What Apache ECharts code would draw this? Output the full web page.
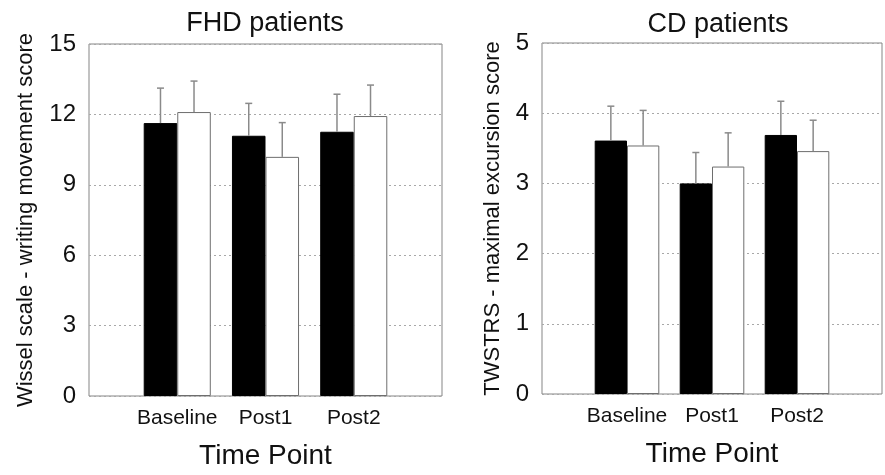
<!DOCTYPE html>
<html>
<head>
<meta charset="utf-8">
<script src="https://cdn.jsdelivr.net/npm/echarts@6/dist/echarts.min.js"></script>
<style>
html,body{margin:0;padding:0;background:#fff;}
#chart{width:885px;height:475px;}
</style>
</head>
<body>
<div id="chart"></div>
<script>
// ---- data ----
const categories = ['Baseline', 'Post1', 'Post2'];
const fhdBlack = [11.63, 11.09, 11.26];
const fhdBlackErr = [1.49, 1.38, 1.60];
const fhdWhite = [12.10, 10.19, 11.93];
const fhdWhiteErr = [1.32, 1.46, 1.32];
const cdBlack = [3.61, 3.00, 3.69];
const cdBlackErr = [0.49, 0.44, 0.48];
const cdWhite = [3.54, 3.24, 3.46];
const cdWhiteErr = [0.50, 0.48, 0.44];
const fhdTicks = {min: 0, max: 15, interval: 3};
const cdTicks = {min: 0, max: 5, interval: 1};

// ---- helpers ----
const FONT = 'Liberation Sans, Arial, sans-serif';
const BAR_FRAC = 0.38;
const pad = arr => [null].concat(arr, [null]);
const axisCats = [''].concat(categories, ['']);
const errData = (vals, errs) => vals.map((v, i) => [i + 1, v, errs[i]]);

function errRender(side) {
  return function (params, api) {
    const x = api.value(0), v = api.value(1), e = api.value(2);
    const p0 = api.coord([x, v]);
    const p1 = api.coord([x, v + e]);
    const band = api.size([1, 0])[0];
    const cx = p0[0] + side * band * BAR_FRAC / 2;
    const st = {stroke: '#8a8a8a', lineWidth: 1.5};
    return {
      type: 'group',
      children: [
        {type: 'line', shape: {x1: cx, y1: p0[1], x2: cx, y2: p1[1]}, style: st},
        {type: 'line', shape: {x1: cx - 3.5, y1: p1[1], x2: cx + 3.5, y2: p1[1]}, style: st}
      ]
    };
  };
}

function xAx(gi) {
  return {
    type: 'category', gridIndex: gi, data: axisCats, boundaryGap: false,
    axisLine: {show: false}, axisTick: {show: false}, splitLine: {show: false},
    axisLabel: {interval: 0, margin: 12, fontSize: 21, color: '#111', fontFamily: FONT},
    name: 'Time Point', nameLocation: 'middle', nameGap: 46,
    nameTextStyle: {fontSize: 28, color: '#111', fontFamily: FONT}
  };
}
function yAx(gi, t, name, gap) {
  return {
    type: 'value', gridIndex: gi, min: t.min, max: t.max, interval: t.interval,
    axisLine: {show: false}, axisTick: {show: false},
    axisLabel: {margin: 13, fontSize: 24, color: '#111', fontFamily: FONT},
    splitLine: {show: true, lineStyle: {type: [2, 3], color: '#a8a8a8', width: 1}},
    name: name, nameLocation: 'middle', nameGap: gap,
    nameTextStyle: {fontSize: 22, color: '#111', fontFamily: FONT}
  };
}
function barSeries(gi, vals, black) {
  return {
    type: 'bar', xAxisIndex: gi, yAxisIndex: gi, data: pad(vals),
    barWidth: (BAR_FRAC * 100) + '%', barGap: '0%',
    itemStyle: black ? {color: '#000', borderColor: '#000', borderWidth: 1}
                     : {color: '#fff', borderColor: '#6e6e6e', borderWidth: 1},
    silent: true
  };
}
function errSeries(gi, vals, errs, side) {
  return {
    type: 'custom', xAxisIndex: gi, yAxisIndex: gi, data: errData(vals, errs),
    renderItem: errRender(side), encode: {x: 0, y: 1}, z: 3, silent: true
  };
}

const chart = echarts.init(document.getElementById('chart'), null, {renderer: 'canvas'});
chart.setOption({
  animation: false,
  backgroundColor: '#fff',
  graphic: [
    {type: 'text', x: 265, y: 24, style: {text: 'FHD patients', font: '27px ' + FONT, fill: '#111', textAlign: 'center', textVerticalAlign: 'middle'}},
    {type: 'text', x: 718, y: 25, style: {text: 'CD patients', font: '27px ' + FONT, fill: '#111', textAlign: 'center', textVerticalAlign: 'middle'}}
  ],
  grid: [
    {left: 89, top: 44, width: 353, height: 353, show: true, borderColor: '#858585', borderWidth: 1, backgroundColor: 'transparent'},
    {left: 542, top: 43, width: 354, height: 351, show: true, borderColor: '#858585', borderWidth: 1, backgroundColor: 'transparent'}
  ],
  xAxis: [xAx(0), xAx(1)],
  yAxis: [
    yAx(0, fhdTicks, 'Wissel scale - writing movement score', 52),
    yAx(1, cdTicks, 'TWSTRS - maximal excursion score', 38)
  ],
  series: [
    barSeries(0, fhdBlack, true),
    barSeries(0, fhdWhite, false),
    barSeries(1, cdBlack, true),
    barSeries(1, cdWhite, false),
    errSeries(0, fhdBlack, fhdBlackErr, -1),
    errSeries(0, fhdWhite, fhdWhiteErr, 1),
    errSeries(1, cdBlack, cdBlackErr, -1),
    errSeries(1, cdWhite, cdWhiteErr, 1)
  ]
});
</script>
</body>
</html>
